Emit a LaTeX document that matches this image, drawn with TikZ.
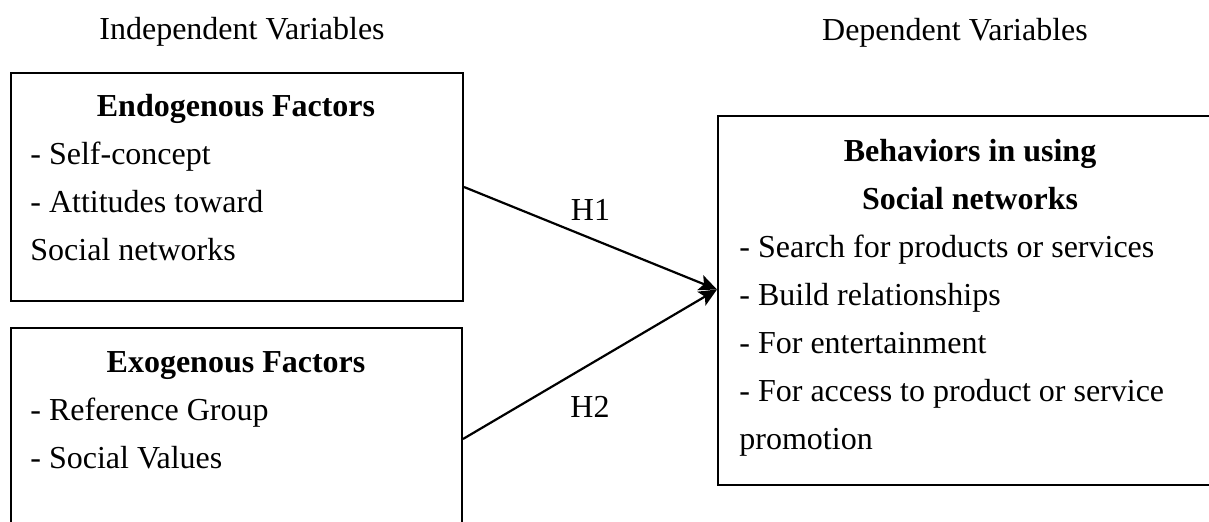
\documentclass[tikz,border=0pt]{standalone}
\usepackage{fontspec}
\setmainfont{Liberation Serif}
\usetikzlibrary{arrows.meta}

\tikzset{
  box/.style={draw, line width=1pt, anchor=north west, inner sep=0pt},
  line/.style={anchor=base west, inner sep=0pt, font=\fontsize{16}{24}\selectfont},
  head/.style={anchor=base, inner sep=0pt, font=\fontsize{16}{24}\selectfont\bfseries},
  title/.style={anchor=base, inner sep=0pt, font=\fontsize{16}{24}\selectfont},
  link/.style={line width=1.1pt, -{Stealth[length=9pt,width=8pt,inset=2pt]}},
  hyp/.style={font=\fontsize{16}{24}\selectfont}
}

\begin{document}
\begin{tikzpicture}[x=0.5pt,y=-0.5pt]
        \useasboundingbox (0,0) rectangle (1209,522);
        \clip (0,0) rectangle (1209,522);

        \node[title] (indep) at (242,40) {Independent Variables};
        \node[title] (dep) at (955,41) {Dependent Variables};

        % left boxes
        \node[box, minimum width=226pt, minimum height=114pt] (endo) at (10,72) {};
        \node[box, minimum width=225.5pt, minimum height=111pt] (exo) at (10,327) {};
        % right box (runs off the page)
        \node[box, minimum width=253pt, minimum height=184.5pt] (beh) at (717,115) {};

        \node[head] (endo-h) at (236,117) {Endogenous Factors};
        \foreach \txt [count=\i] in {- Self-concept, - Attitudes toward, Social networks}
            \node[line] (endo-\i) at (30,117+48*\i) {\txt};

        \node[head] (exo-h) at (236,373) {Exogenous Factors};
        \foreach \txt [count=\i] in {- Reference Group, - Social Values}
            \node[line] (exo-\i) at (30,373+48*\i) {\txt};

        \node[head] (beh-h1) at (970,162) {Behaviors in using};
        \node[head] (beh-h2) at (970,210) {Social networks};
        \foreach \txt [count=\i] in {- Search for products or services, - Build relationships, - For entertainment, - For access to product or service, promotion}
            \node[line] (beh-\i) at (739,210+48*\i) {\txt};

        \coordinate (tip) at ([yshift=5.5pt]beh.west);
        \draw[link] (endo.east) -- (tip) node[hyp, midway, above=5pt] {H1};
        \draw[link] (exo.east) -- (tip) node[hyp, midway, below=12pt] {H2};
    \end{tikzpicture}
\end{document}
